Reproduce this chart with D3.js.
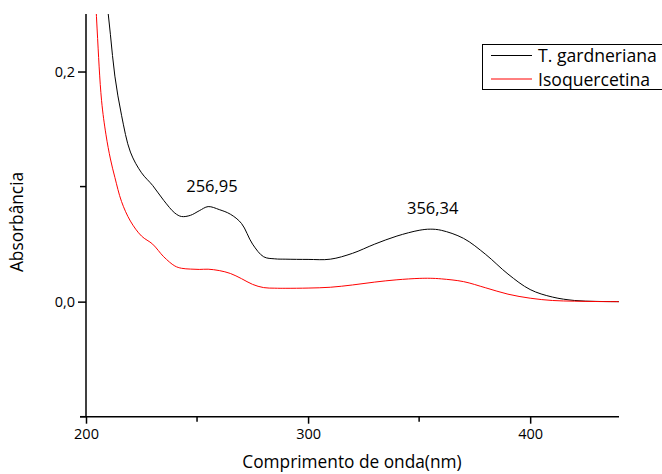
<!DOCTYPE html>
<html>
<head>
<meta charset="utf-8">
<script src="https://cdn.jsdelivr.net/npm/d3@7"></script>
<style>
  html, body { margin: 0; padding: 0; background: #fff; }
  svg { display: block; }
  text { font-family: "Open Sans", "Noto Sans", sans-serif; fill: #000; }
</style>
</head>
<body>
<script>
// ---- data ----
const wavelengths = [203, 205, 207, 209, 211, 213, 216, 220, 225, 230, 235, 240, 243, 247, 251, 255, 260, 265, 270, 275, 280, 285, 290, 300, 310, 320, 330, 340, 350, 355, 360, 370, 380, 390, 400, 410, 420, 430, 440];
const gardneriana = [0.45, 0.38, 0.32, 0.27, 0.232, 0.196, 0.162, 0.13, 0.112, 0.101, 0.088, 0.077, 0.074, 0.075, 0.079, 0.0826, 0.080, 0.076, 0.068, 0.050, 0.039, 0.0372, 0.0369, 0.0367, 0.0369, 0.042, 0.050, 0.057, 0.062, 0.063, 0.062, 0.055, 0.041, 0.024, 0.0105, 0.004, 0.001, 0.0002, 0];
const isoquercetina = [0.32, 0.237, 0.175, 0.145, 0.124, 0.108, 0.087, 0.070, 0.057, 0.050, 0.039, 0.031, 0.029, 0.0283, 0.028, 0.0282, 0.027, 0.0245, 0.020, 0.015, 0.0122, 0.0117, 0.0116, 0.0118, 0.0125, 0.0145, 0.017, 0.019, 0.0202, 0.0203, 0.0198, 0.0174, 0.012, 0.0065, 0.003, 0.001, 0.0004, 0.0001, 0];
const seriesNames = ["T. gardneriana", "Isoquercetina"];
const seriesColors = ["#000000", "#ff0000"];
const xTicksMajor = [200, 300, 400];
const xTicksMinor = [250, 350];
const yTicksMajor = [0.0, 0.2];
const yTicksMinor = [-0.1, 0.1];
const peakLabels = [{x: 256.95, y: 0.0826, label: "256,95"}, {x: 356.34, y: 0.063, label: "356,34"}];

// ---- layout ----
const W = 662, H = 474;
const mLeft = 86, mRight = 619, mTop = 14, mBottom = 416.7;

const svg = d3.select("body").append("svg").attr("width", W).attr("height", H);

const x = d3.scaleLinear().domain([200, 440]).range([mLeft, mRight]);
const y = d3.scaleLinear().domain([-0.1, 0.25]).range([mBottom, mTop]);

svg.append("defs").append("clipPath").attr("id", "plot")
  .append("rect").attr("x", mLeft).attr("y", mTop).attr("width", mRight - mLeft).attr("height", mBottom - mTop);

const fmt = d => d3.format(".1f")(d).replace(".", ",");

// curves
const series = [gardneriana, isoquercetina];
const line = d3.line().x((d, i) => x(wavelengths[i])).y(d => y(d)).curve(d3.curveCatmullRom.alpha(0.5));
series.forEach((vals, k) => {
  svg.append("path").attr("clip-path", "url(#plot)")
    .attr("d", line(vals))
    .attr("fill", "none").attr("stroke", seriesColors[k]).attr("stroke-width", 1);
});

// axes
const xAxis = d3.axisBottom(x).tickValues(xTicksMajor).tickSize(7).tickSizeOuter(0).tickFormat(d3.format("d"));
const gx = svg.append("g").attr("transform", `translate(0,${mBottom})`).call(xAxis);
gx.select(".domain").attr("stroke-width", 1.5).attr("d", `M${mLeft - 6},0H${mRight}`);
gx.selectAll(".tick line").attr("stroke-width", 1.5);
gx.selectAll(".tick text").attr("font-size", 14.5).attr("dy", "0.9em").attr("y", 9)
  .style("font-family", '"Open Sans", sans-serif');
svg.append("g").attr("transform", `translate(0,${mBottom})`).selectAll("line").data(xTicksMinor).join("line")
  .attr("x1", d => x(d)).attr("x2", d => x(d)).attr("y1", 0).attr("y2", 5)
  .attr("stroke", "#000").attr("stroke-width", 1.5);

const yAxis = d3.axisLeft(y).tickValues(yTicksMajor).tickSize(8).tickSizeOuter(0).tickFormat(fmt);
const gy = svg.append("g").attr("transform", `translate(${mLeft},0)`).call(yAxis);
gy.select(".domain").attr("stroke-width", 1.5).attr("d", `M0,${mTop}V${mBottom}`);
gy.selectAll(".tick line").attr("stroke-width", 1.5);
gy.selectAll(".tick text").attr("font-size", 14.5).attr("x", -11)
  .style("font-family", '"Open Sans", sans-serif');
svg.append("g").attr("transform", `translate(${mLeft},0)`).selectAll("line").data(yTicksMinor).join("line")
  .attr("y1", d => y(d)).attr("y2", d => y(d)).attr("x1", 0).attr("x2", -6)
  .attr("stroke", "#000").attr("stroke-width", 1.5);

// axis titles
svg.append("text").attr("x", 352).attr("y", 468).attr("text-anchor", "middle")
  .attr("font-size", 17.3).text("Comprimento de onda(nm)");
svg.append("text").attr("transform", `translate(23,${222}) rotate(-90)`).attr("text-anchor", "middle")
  .attr("font-size", 17.3).text("Absorbância");

// peak labels
svg.selectAll("text.peak").data(peakLabels).join("text").attr("class", "peak")
  .attr("x", d => x(d.x) - 0.5).attr("y", d => y(d.y) - 15)
  .attr("text-anchor", "middle").attr("font-size", 16.5).text(d => d.label);

// legend
const lg = svg.append("g");
lg.append("rect").attr("x", 482.5).attr("y", 44.5).attr("width", 200).attr("height", 45)
  .attr("fill", "#fff").attr("stroke", "#000").attr("stroke-width", 1);
seriesNames.forEach((name, i) => {
  const yy = 55.5 + i * 23.5;
  lg.append("line").attr("x1", 491).attr("x2", 532).attr("y1", yy).attr("y2", yy)
    .attr("stroke", seriesColors[i]).attr("stroke-width", 1);
  lg.append("text").attr("x", 538).attr("y", yy + 6.5).attr("font-size", 17.6).text(name);
});
</script>
</body>
</html>
